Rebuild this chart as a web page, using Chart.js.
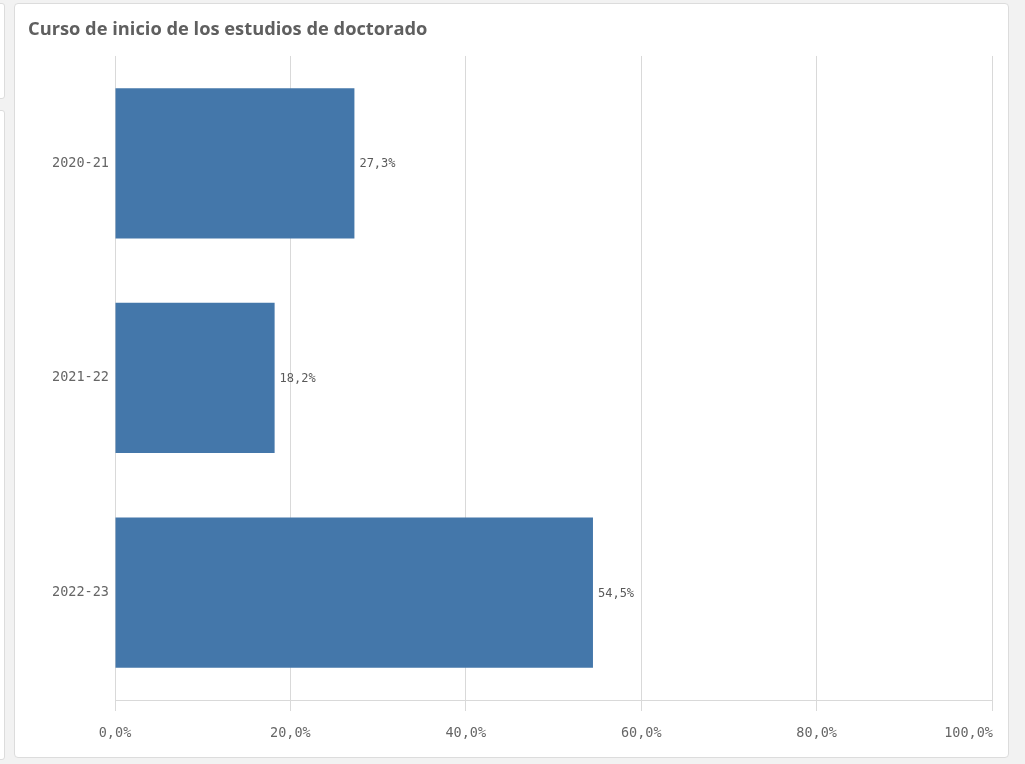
<!DOCTYPE html>
<html>
<head>
<meta charset="utf-8">
<script src="https://cdn.jsdelivr.net/npm/chart.js@4/dist/chart.umd.min.js"></script>
<style>
  html, body { margin: 0; padding: 0; background: #f2f2f2; width: 1025px; height: 764px; overflow: hidden; }
  .side { position: absolute; left: -10px; width: 13px; background: #fff; border: 1px solid #dcdcdc; border-radius: 3px; }
  #card { position: absolute; left: 14px; top: 3px; width: 993px; height: 753px; background: #fff; border: 1px solid #dcdcdc; border-radius: 4px; }
  #myChart { position: absolute; left: 0; top: 0; }
</style>
</head>
<body>
<div class="side" style="top:3px;height:94px"></div>
<div class="side" style="top:110px;height:648px"></div>
<div id="card"><canvas id="myChart" width="992" height="753"></canvas></div>
<script>
const categories = ['2020-21', '2021-22', '2022-23']
const shares = [27.3, 18.2, 54.5]
const xTicks = [0, 20, 40, 60, 80, 100]

const pct = v => v.toFixed(1).replace('.', ',') + '%'

Chart.defaults.font.family = "'DejaVu Sans Mono', monospace"
Chart.defaults.color = '#666666'

// value labels next to each bar
const barLabels = {
    id: 'barLabels',
    afterDatasetsDraw(chart) {
        const ctx = chart.ctx
        const meta = chart.getDatasetMeta(0)
        ctx.save()
        ctx.font = "12px 'DejaVu Sans Mono'"
        ctx.fillStyle = '#595959'
        ctx.textAlign = 'left'
        ctx.textBaseline = 'middle'
        meta.data.forEach((bar, i) => {
            ctx.fillText(pct(shares[i]), bar.x + 5, bar.y + 1)
        })
        ctx.restore()
    }
}

// x tick labels, last one kept inside the card
const xLabels = {
    id: 'xLabels',
    afterDraw(chart) {
        const ctx = chart.ctx
        const x = chart.scales.x
        ctx.save()
        ctx.font = "13.5px 'DejaVu Sans Mono'"
        ctx.fillStyle = '#666666'
        ctx.textBaseline = 'middle'
        xTicks.forEach((v, i) => {
            const px = x.getPixelForValue(v)
            if (i === xTicks.length - 1) {
                ctx.textAlign = 'right'
                ctx.fillText(pct(v), px + 1, x.bottom + 22)
            } else {
                ctx.textAlign = 'center'
                ctx.fillText(pct(v), px, x.bottom + 22)
            }
        })
        ctx.restore()
    }
}

const ctx = document.getElementById('myChart').getContext('2d')
const myChart = new Chart(ctx, {
    type: 'bar',
    data: {
        labels: categories,
        datasets: [{
            data: shares,
            backgroundColor: '#4477aa',
            borderWidth: 0,
            barPercentage: 0.7,
            categoryPercentage: 1
        }]
    },
    plugins: [barLabels, xLabels],
    options: {
        indexAxis: 'y',
        responsive: false,
        animation: false,
        layout: {
            padding: { left: 13, right: 15, top: 0, bottom: 46 }
        },
        plugins: {
            legend: { display: false },
            tooltip: { enabled: false },
            title: {
                display: true,
                text: 'Curso de inicio de los estudios de doctorado',
                align: 'start',
                color: '#5f5f5f',
                font: { family: "'Open Sans'", size: 18.3, weight: 'bold', lineHeight: 1.2 },
                padding: { top: 15, bottom: 15 }
            }
        },
        scales: {
            x: {
                min: 0,
                max: 100,
                ticks: { display: false, stepSize: 20 },
                grid: { color: '#d9d9d9', tickLength: 11, tickColor: '#d9d9d9' },
                border: { color: '#d9d9d9' }
            },
            y: {
                afterFit: s => { s.width = 87 },
                grid: { display: false, drawTicks: false },
                border: { display: false },
                ticks: { padding: 6, color: '#666666', font: { size: 13.5 } }
            }
        }
    }
})
</script>
</body>
</html>
